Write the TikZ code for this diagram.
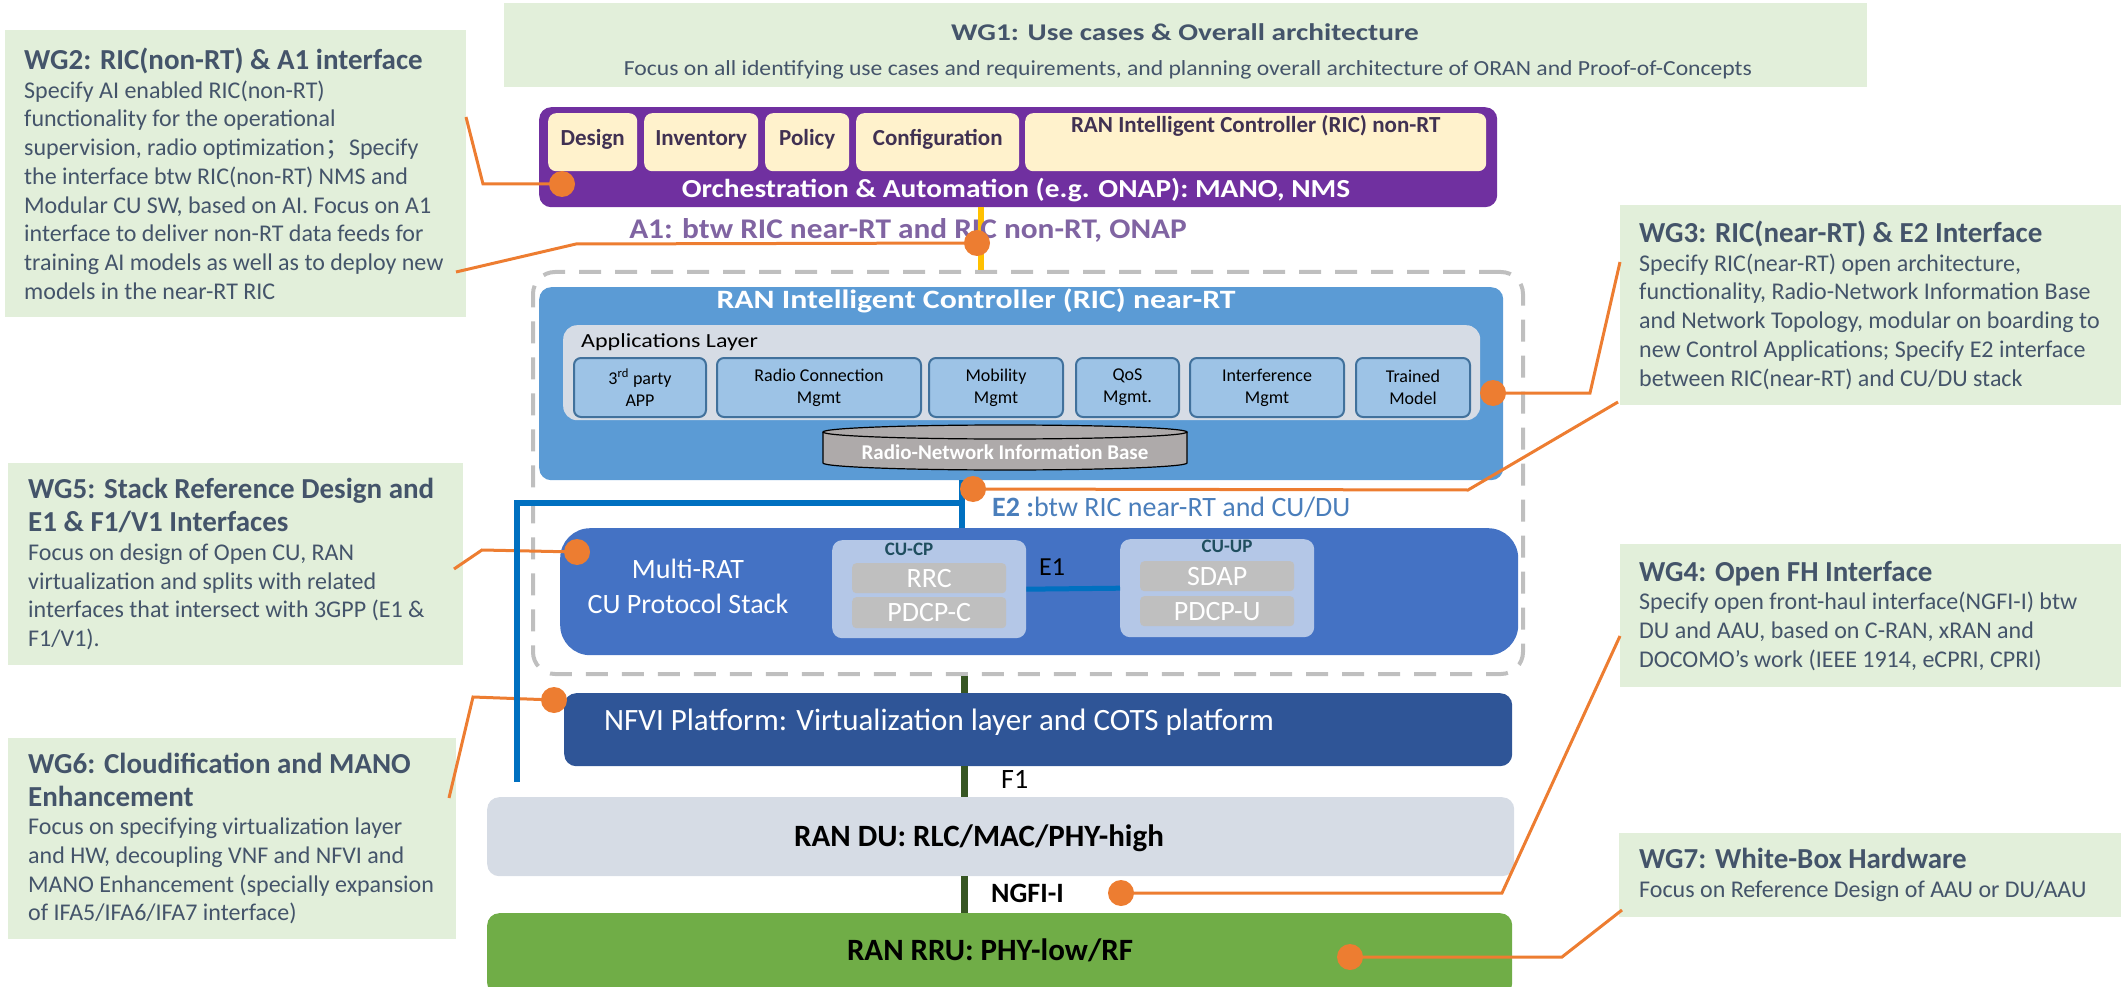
\documentclass[tikz,border=0pt]{standalone}
\usepackage{fontspec}
\setmainfont{Carlito}
\newfontfamily\cjk{Noto Sans CJK SC}
\usepackage{graphicx}
\usepackage{tikz}
\usetikzlibrary{positioning}
\definecolor{wgfill}{HTML}{E2EFDA}
\definecolor{wgtextc}{HTML}{44546A}
\definecolor{purplec}{HTML}{7030A0}
\definecolor{topfill}{HTML}{FFF2CC}
\definecolor{toptext}{HTML}{403152}
\definecolor{a1c}{HTML}{8064A2}
\definecolor{orangec}{HTML}{ED7D31}
\definecolor{yellowc}{HTML}{FFC000}
\definecolor{ricc}{HTML}{5B9BD5}
\definecolor{appsc}{HTML}{D6DCE5}
\definecolor{appfill}{HTML}{9DC3E6}
\definecolor{appdraw}{HTML}{41719C}
\definecolor{cylc}{HTML}{AEAAAA}
\definecolor{dashc}{HTML}{BFBFBF}
\definecolor{cuc}{HTML}{4472C4}
\definecolor{cucpc}{HTML}{B4C7E7}
\definecolor{labc}{HTML}{1F4E5F}
\definecolor{grayc}{HTML}{BFBFBF}
\definecolor{nfvic}{HTML}{2F5597}
\definecolor{duc}{HTML}{D6DCE5}
\definecolor{rruc}{HTML}{70AD47}
\definecolor{greenc}{HTML}{375623}
\definecolor{busc}{HTML}{0070C0}
\definecolor{e2c}{HTML}{4A7EBB}
\newcommand{\fsz}[2]{\fontsize{#1pt}{#2pt}\selectfont}
\newcommand{\wgtitle}[1]{{\bfseries\fsz{29}{34}#1}}

\begin{document}
\begin{tikzpicture}[x=1pt,y=-1pt,
  wgbox/.style={fill=wgfill, inner sep=0pt, anchor=north west},
  wgtext/.style={text=wgtextc, align=left, anchor=west, inner sep=0pt, font=\fsz{24}{28.7}},
  wgline/.style={draw=orangec, line width=3pt},
  wgdot/.style={circle, fill=orangec, inner sep=0pt, minimum size=26pt},
  topbox/.style={fill=topfill, rounded corners=8pt, inner sep=0pt, anchor=north west, minimum height=58pt, text=toptext, font=\bfseries\fsz{23}{27}, text height=15pt, text depth=8pt},
  appbox/.style={fill=appfill, draw=appdraw, line width=2pt, rounded corners=7pt, inner sep=0pt, anchor=north west, minimum height=59pt, align=center, font=\fsz{18}{22}},
  slab/.style={rounded corners=12pt, inner sep=0pt, anchor=north west},
  graybox/.style={fill=grayc, text=white, rounded corners=4pt, inner sep=0pt, anchor=north west, minimum width=154pt, font=\fsz{28}{32}},
  greenlink/.style={draw=greenc, line width=7pt},
  bus/.style={draw=busc, line width=6pt}]
\useasboundingbox (0,0) rectangle (2121,987);

\node[wgbox, minimum width=1363pt, minimum height=84pt] (wg_1) at (504,3) {};
\node[text=wgtextc, inner sep=0pt, font=\bfseries\fsz{24}{28}] (wg_1_title) at (1185,32) {\scalebox{1.22}[1]{WG1: Use cases \& Overall architecture}};
\node[text=wgtextc, inner sep=0pt, font=\fsz{21.5}{26}] (wg_1_text) at (1188,70) {\scalebox{1.1}[1]{Focus on all identifying use cases and requirements, and planning overall architecture of ORAN and Proof-of-Concepts}};

\node[wgbox, minimum width=461pt, minimum height=287pt] (wg_2) at (5,30) {};
\node[wgtext] (wg_2_text) at ([xshift=19pt]wg_2.west) {\wgtitle{WG2: RIC(non-RT) \& A1 interface}\\
Specify AI enabled RIC(non-RT)\\
functionality for the operational\\
supervision, radio optimization{\cjk ；}Specify\\
the interface btw RIC(non-RT) NMS and\\
Modular CU SW, based on AI. Focus on A1\\
interface to deliver non-RT data feeds for\\
training AI models as well as to deploy new\\
models in the near-RT RIC};

\node[wgbox, minimum width=501pt, minimum height=200pt] (wg_3) at (1620,205) {};
\node[wgtext] (wg_3_text) at ([xshift=19pt]wg_3.west) {\wgtitle{WG3: RIC(near-RT) \& E2 Interface}\\
Specify RIC(near-RT) open architecture,\\
functionality, Radio-Network Information Base\\
and Network Topology, modular on boarding to\\
new Control Applications; Specify E2 interface\\
between RIC(near-RT) and CU/DU stack};

\node[wgbox, minimum width=501pt, minimum height=143pt] (wg_4) at (1620,544) {};
\node[wgtext] (wg_4_text) at ([xshift=19pt]wg_4.west) {\wgtitle{WG4: Open FH Interface}\\
Specify open front-haul interface(NGFI-I) btw\\
DU and AAU, based on C-RAN, xRAN and\\
DOCOMO’s work (IEEE 1914, eCPRI, CPRI)};

\node[wgbox, minimum width=455pt, minimum height=202pt] (wg_5) at (8,463) {};
\node[wgtext] (wg_5_text) at ([xshift=20pt]wg_5.west) {\wgtitle{WG5: Stack Reference Design and}\\[4pt]
\wgtitle{E1 \& F1/V1 Interfaces}\\
Focus on design of Open CU, RAN\\
virtualization and splits with related\\
interfaces that intersect with 3GPP (E1 \&\\
F1/V1).};

\node[wgbox, minimum width=448pt, minimum height=201pt] (wg_6) at (8,738) {};
\node[wgtext] (wg_6_text) at ([xshift=20pt]wg_6.west) {\wgtitle{WG6: Cloudification and MANO}\\[4pt]
\wgtitle{Enhancement}\\
Focus on specifying virtualization layer\\
and HW, decoupling VNF and NFVI and\\
MANO Enhancement (specially expansion\\
of IFA5/IFA6/IFA7 interface)};

\node[wgbox, minimum width=502pt, minimum height=84pt] (wg_7) at (1619,833) {};
\node[wgtext] (wg_7_text) at ([xshift=20pt]wg_7.west) {\wgtitle{WG7: White-Box Hardware}\\
Focus on Reference Design of AAU or DU/AAU};

\node[slab, fill=purplec, minimum width=958pt, minimum height=100pt] (orch) at (539,107) {};
\node[topbox, minimum width=89pt] (top_design) at (548,113) {Design};
\node[topbox, minimum width=114pt] (top_inventory) at (644,113) {Inventory};
\node[topbox, minimum width=84pt] (top_policy) at (765,113) {Policy};
\node[topbox, minimum width=163pt] (top_config) at (856,113) {Configuration};
\node[topbox, minimum width=461pt, text depth=34pt] (top_ric) at (1025,113) {RAN Intelligent Controller (RIC) non-RT};
\node[text=white, inner sep=0pt, font=\bfseries\fsz{26}{30}] (orch_label) at (1016,190) {\scalebox{1.13}[1]{Orchestration \& Automation (e.g. ONAP): MANO, NMS}};

\node[draw=dashc, line width=4pt, dash pattern=on 22pt off 14pt, rounded corners=22pt, inner sep=0pt, anchor=north west, minimum width=990pt, minimum height=402pt] (near_rt) at (531,270) {};

\node[slab, fill=ricc, minimum width=964pt, minimum height=193pt] (ric_near) at (539,287) {};
\node[text=white, inner sep=0pt, font=\bfseries\fsz{26.5}{30}] (ric_title) at (976,301) {\scalebox{1.2}[1]{RAN Intelligent Controller (RIC) near-RT}};
\node[slab, fill=appsc, rounded corners=14pt, minimum width=917pt, minimum height=95pt] (apps) at (563,325) {};
\node[anchor=west, inner sep=0pt, font=\fsz{20}{24}] (apps_label) at (581,342) {\scalebox{1.2}[1]{Applications Layer}};
\node[appbox, minimum width=132pt] (app_third) at (573,357) {3\textsuperscript{rd} party\\APP};
\node[appbox, minimum width=204pt] (app_radio) at (716,357) {Radio Connection\\Mgmt};
\node[appbox, minimum width=134pt] (app_mobility) at (928,357) {Mobility\\Mgmt};
\node[appbox, minimum width=103pt] (app_qos) at (1075,357) {QoS\\Mgmt.};
\node[appbox, minimum width=154pt] (app_interf) at (1189,357) {Interference\\Mgmt};
\node[appbox, minimum width=114pt] (app_model) at (1355,357) {Trained\\Model};
\filldraw[fill=cylc, draw=black, line width=1.2pt] (823,432) -- (823,463) arc[start angle=180, end angle=0, x radius=182, y radius=7] -- (1187,432);
\filldraw[fill=cylc, draw=black, line width=1.2pt] (1005,432) ellipse [x radius=182, y radius=7];
\node[text=white, inner sep=0pt, font=\bfseries\fsz{21}{25}] (rnib) at (1005,452) {Radio-Network Information Base};

\node[slab, fill=cuc, rounded corners=30pt, minimum width=958pt, minimum height=127pt] (cu_stack) at (560,528) {};
\node[text=white, align=center, inner sep=0pt, font=\fsz{28}{35}] (cu_label) at (688,586) {Multi-RAT\\CU Protocol Stack};
\node[slab, fill=cucpc, rounded corners=10pt, minimum width=194pt, minimum height=98pt] (cu_cp) at (832,540) {};
\node[text=labc, inner sep=0pt, font=\bfseries\fsz{19}{22}] (cu_cp_label) at (909,549) {CU-CP};
\node[graybox, minimum height=30pt] (rrc) at (852,563) {RRC};
\node[graybox, minimum height=31pt] (pdcp_c) at (852,597) {PDCP-C};
\node[slab, fill=cucpc, rounded corners=10pt, minimum width=194pt, minimum height=98pt] (cu_up) at (1120,539) {};
\node[text=labc, inner sep=0pt, font=\bfseries\fsz{19}{22}] (cu_up_label) at (1227,546) {CU-UP};
\node[graybox, minimum height=30pt] (sdap) at (1140,561) {SDAP};
\node[graybox, minimum height=30pt] (pdcp_u) at (1140,596) {PDCP-U};
\draw[bus, line width=5pt] (cu_cp.east) -- (cu_up.west);
\node[inner sep=0pt, font=\fsz{26}{30}] (e1_label) at (1052,567) {E1};

\node[slab, fill=nfvic, minimum width=948pt, minimum height=73pt] (nfvi) at (564,693) {};
\node[text=white, anchor=west, inner sep=0pt, font=\fsz{31}{36}] (nfvi_label) at (604,722) {NFVI Platform: Virtualization layer and COTS platform};
\node[slab, fill=duc, minimum width=1027pt, minimum height=79pt] (ran_du) at (487,797) {};
\node[inner sep=0pt, font=\bfseries\fsz{31}{36}] (du_label) at (979,838) {RAN DU: RLC/MAC/PHY-high};
\node[slab, fill=rruc, minimum width=1025pt, minimum height=82pt] (ran_ru) at (487,913) {};
\node[inner sep=0pt, font=\bfseries\fsz{31}{36}] (ru_label) at (990,950) {RAN RRU: PHY-low/RF};

\coordinate (p_2) at (562,184);
\coordinate (p_a1) at (977,243);
\coordinate (p_3) at (1493,393);
\coordinate (p_e2) at (973,489);
\coordinate (p_5) at (577,552);
\coordinate (p_6) at (554,700);
\coordinate (p_4) at (1121,893);
\coordinate (p_7) at (1350,957);
\coordinate (c2_a) at (466,117);
\coordinate (c2_b) at (483,184);
\coordinate (ca_a) at (456,272);
\coordinate (ca_b) at (576,244);
\coordinate (c3_a) at (1620,262);
\coordinate (c3_b) at (1590,393);
\coordinate (ce_a) at (1618,402);
\coordinate (ce_b) at (1468,490);
\coordinate (c5_a) at (454,569);
\coordinate (c5_b) at (482,550);
\coordinate (c6_a) at (449,798);
\coordinate (c6_b) at (473,697);
\coordinate (c4_a) at (1620,636);
\coordinate (c4_b) at (1502,893);
\coordinate (c7_a) at (1622,910);
\coordinate (c7_b) at (1562,957);
\draw[wgline] (c2_a) -- (c2_b) -- (p_2);
\draw[wgline] (ca_a) -- (ca_b) -- (p_a1);
\draw[wgline] (c3_a) -- (c3_b) -- (p_3);
\draw[wgline] (ce_a) -- (ce_b) -- (p_e2);
\draw[wgline] (c5_a) -- (c5_b) -- (p_5);
\draw[wgline] (c6_a) -- (c6_b) -- (p_6);
\draw[wgline] (c4_a) -- (c4_b) -- (p_4);
\draw[wgline] (c7_a) -- (c7_b) -- (p_7);

\coordinate (yel_x) at (981,0);
\draw[draw=yellowc, line width=6pt] (orch.south -| yel_x) -- (near_rt.north -| yel_x);
\coordinate (link_x) at (964,0);
\draw[greenlink] (near_rt.south -| link_x) -- (nfvi.north -| link_x);
\draw[greenlink] (nfvi.south -| link_x) -- (ran_du.north -| link_x);
\draw[greenlink] (ran_du.south -| link_x) -- (ran_ru.north -| link_x);
\coordinate (bus_top) at (962,503);
\coordinate (bus_left) at (517,503);
\coordinate (bus_end) at (517,782);
\draw[bus] (ric_near.south -| bus_top) -- (cu_stack.north -| bus_top);
\draw[bus] (bus_top) -- (bus_left) -- (bus_end);

\node[text=a1c, inner sep=0pt, font=\bfseries\fsz{28.5}{32}] (a1_label) at (908,230) {\scalebox{1.1}[1]{A1: btw RIC near-RT and RIC non-RT, ONAP}};
\node[text=e2c, anchor=west, inner sep=0pt, font=\fsz{28}{32}] (e2_label) at (992,507) {{\bfseries E2 :}btw RIC near-RT and CU/DU};
\node[anchor=west, inner sep=0pt, font=\fsz{28}{32}] (f1_label) at (1001,779) {F1};
\node[anchor=west, inner sep=0pt, font=\bfseries\fsz{28}{32}] (ngfi_label) at (991,893) {NGFI-I};

\node[wgdot] (dot_2) at (p_2) {};
\node[wgdot] (dot_a1) at (p_a1) {};
\node[wgdot] (dot_3) at (p_3) {};
\node[wgdot] (dot_e2) at (p_e2) {};
\node[wgdot] (dot_5) at (p_5) {};
\node[wgdot] (dot_6) at (p_6) {};
\node[wgdot] (dot_4) at (p_4) {};
\node[wgdot] (dot_7) at (p_7) {};
\end{tikzpicture}
\end{document}
